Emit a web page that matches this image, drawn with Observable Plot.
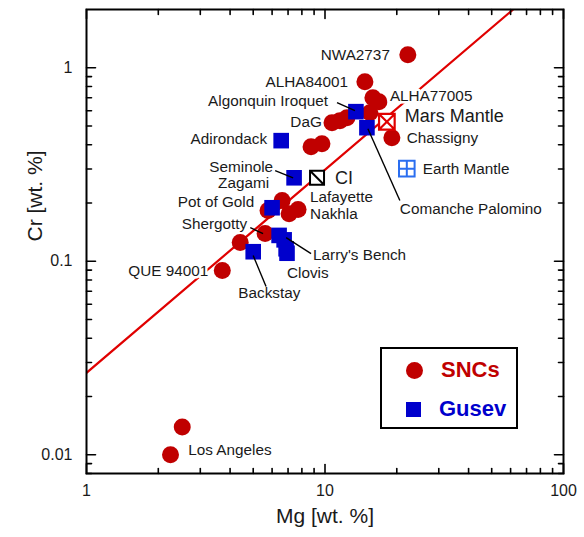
<!DOCTYPE html>
<html>
<head>
<meta charset="utf-8">
<script src="https://cdn.jsdelivr.net/npm/d3@7"></script>
<script src="https://cdn.jsdelivr.net/npm/@observablehq/plot@0.6"></script>
<style>
  body { margin: 0; background: #fff; }
  #wrap { position: relative; width: 584px; height: 537px; font-family: "Liberation Sans", Arial, sans-serif; }
  #legend { position: absolute; left: 380px; top: 347px; width: 134px; height: 78px; border: 2.5px solid #000; background: #fff; }
  .lg { position: absolute; left: 0; height: 30px; display: flex; align-items: center; font-weight: bold; font-size: 22px; }
  .sw { display: inline-block; margin-left: 24px; margin-right: 18px; }
</style>
</head>
<body>
<div id="wrap"></div>
<script>
// SNC meteorites (red circles)
const sncMg = [22.25, 14.70, 15.88, 16.83, 15.43, 10.70, 11.55, 12.36, 19.07, 8.74, 9.71, 6.61, 5.77, 7.07, 7.71, 5.61, 4.41, 3.71, 2.52, 2.25];
const sncCr = [1.167, 0.847, 0.700, 0.668, 0.586, 0.520, 0.533, 0.552, 0.435, 0.391, 0.405, 0.206, 0.183, 0.176, 0.185, 0.139, 0.125, 0.0895, 0.0139, 0.0100];

// Gusev rocks (blue squares)
const gusevMg = [13.48, 14.99, 6.55, 7.42, 6.00, 6.42, 6.74, 6.87, 6.93, 5.00];
const gusevCr = [0.593, 0.490, 0.420, 0.270, 0.189, 0.136, 0.129, 0.116, 0.110, 0.112];

// Reference compositions
const refNames = ["CI", "Mars Mantle", "Earth Mantle"];
const refMg = [9.26, 18.17, 22.03];
const refCr = [0.270, 0.526, 0.301];

// Trend line endpoints
const trendMg = [1, 61.2];
const trendCr = [0.0265, 1.99];

// Point labels
const labelText = ["NWA2737", "ALHA84001", "Algonquin Iroquet", "DaG", "ALHA77005", "Mars Mantle", "Chassigny", "Earth Mantle", "Comanche Palomino", "CI", "Lafayette", "Nakhla", "Adirondack", "Seminole", "Zagami", "Pot of Gold", "Shergotty", "Larry's Bench", "Clovis", "QUE 94001", "Backstay", "Los Angeles"];
const labelMg = [18.71, 12.48, 10.29, 8.33, 18.71, 21.61, 22.03, 25.70, 20.60, 11.01, 8.66, 8.66, 5.72, 6.06, 5.83, 5.05, 4.72, 8.91, 6.93, 3.24, 4.33, 2.672];
const labelCr = [1.167, 0.847, 0.676, 0.526, 0.717, 0.559, 0.435, 0.301, 0.187, 0.270, 0.2158, 0.1763, 0.430, 0.308, 0.252, 0.201, 0.1565, 0.107, 0.0864, 0.0885, 0.0681, 0.01054];
const labelAnchor = ["end", "end", "end", "middle", "start", "start", "start", "start", "start", "start", "start", "start", "end", "end", "end", "end", "end", "start", "start", "end", "start", "start"];
const bigLabels = ["Mars Mantle", "CI"];
const haloLabels = ["ALHA77005", "QUE 94001"];

// Leader lines
const leaderFromMg = [11.23, 15.13, 6.18, 4.86, 6.87, 5.00];
const leaderFromCr = [0.660, 0.484, 0.294, 0.149, 0.1325, 0.107];
const leaderToMg = [13.35, 20.60, 7.35, 5.50, 8.74, 5.66];
const leaderToCr = [0.600, 0.206, 0.270, 0.139, 0.1096, 0.0740];

// Axes
const xTickValues = [1, 10, 100];
const xTickLabels = ["1", "10", "100"];
const xMinor = [2, 3, 4, 5, 6, 7, 8, 9, 20, 30, 40, 50, 60, 70, 80, 90];
const yTickValues = [0.01, 0.1, 1];
const yTickLabels = ["0.01", "0.1", "1"];
const yMinor = [0.008, 0.009, 0.02, 0.03, 0.04, 0.05, 0.06, 0.07, 0.08, 0.09, 0.2, 0.3, 0.4, 0.5, 0.6, 0.7, 0.8, 0.9];
const xTitle = "Mg [wt. %]";
const yTitle = "Cr [wt. %]";

const snc = sncMg.map((m, i) => ({Mg: m, Cr: sncCr[i]}));
const gusev = gusevMg.map((m, i) => ({Mg: m, Cr: gusevCr[i]}));
const refs = refNames.map((n, i) => ({name: n, Mg: refMg[i], Cr: refCr[i]}));
const trend = trendMg.map((m, i) => ({Mg: m, Cr: trendCr[i]}));
const labels = labelText.map((t, i) => ({text: t, Mg: labelMg[i], Cr: labelCr[i], anchor: labelAnchor[i]}));
const leaders = leaderFromMg.map((m, i) => ({x1: m, y1: leaderFromCr[i], x2: leaderToMg[i], y2: leaderToCr[i]}));
const xTicks = xTickValues.map((v, i) => ({v, t: xTickLabels[i]}));
const yTicks = yTickValues.map((v, i) => ({v, t: yTickLabels[i]}));

const tickShape = {draw(ctx, l) { ctx.moveTo(0, 0); ctx.lineTo(0, -l); }};
const sqDiag = {draw(ctx, size) { const s = Math.sqrt(size) / 2; ctx.moveTo(-s, -s); ctx.lineTo(s, -s); ctx.lineTo(s, s); ctx.lineTo(-s, s); ctx.closePath(); ctx.moveTo(-s, -s); ctx.lineTo(s, s); }};
const sqX = {draw(ctx, size) { const s = Math.sqrt(size) / 2; ctx.moveTo(-s, -s); ctx.lineTo(s, -s); ctx.lineTo(s, s); ctx.lineTo(-s, s); ctx.closePath(); ctx.moveTo(-s, -s); ctx.lineTo(s, s); ctx.moveTo(s, -s); ctx.lineTo(-s, s); }};
const sqPlus = {draw(ctx, size) { const s = Math.sqrt(size) / 2; ctx.moveTo(-s, -s); ctx.lineTo(s, -s); ctx.lineTo(s, s); ctx.lineTo(-s, s); ctx.closePath(); ctx.moveTo(0, -s); ctx.lineTo(0, s); ctx.moveTo(-s, 0); ctx.lineTo(s, 0); }};

function ticks(data, len, side) {
  const common = {length: len, shape: tickShape, anchor: "start", stroke: "#000", strokeWidth: 1.6};
  if (side === "left") return Plot.vector(data, {...common, y: d => d, x: () => 1, rotate: 90});
  if (side === "right") return Plot.vector(data, {...common, y: d => d, x: () => 100, rotate: -90});
  if (side === "bottom") return Plot.vector(data, {...common, x: d => d, y: () => 0.008, rotate: 0});
  return Plot.vector(data, {...common, x: d => d, y: () => 2, rotate: 180});
}

function labelMarks() {
  const marks = [];
  for (const a of ["start", "end", "middle"]) {
    const normal = labels.filter(d => d.anchor === a && !bigLabels.includes(d.text) && !haloLabels.includes(d.text));
    const halo = labels.filter(d => d.anchor === a && haloLabels.includes(d.text));
    const big = labels.filter(d => d.anchor === a && bigLabels.includes(d.text));
    if (normal.length) marks.push(Plot.text(normal, {x: "Mg", y: "Cr", text: "text", textAnchor: a, fontSize: 15.3, fill: "#1a1a1a"}));
    if (halo.length) marks.push(Plot.text(halo, {x: "Mg", y: "Cr", text: "text", textAnchor: a, fontSize: 15.3, fill: "#1a1a1a", stroke: "#fff", strokeWidth: 5}));
    if (big.length) marks.push(Plot.text(big, {x: "Mg", y: "Cr", text: "text", textAnchor: a, fontSize: 18, fill: "#1a1a1a"}));
  }
  return marks;
}

const chart = Plot.plot({
  width: 584,
  height: 537,
  marginLeft: 86,
  marginRight: 21,
  marginTop: 9,
  marginBottom: 64,
  style: {fontFamily: '"Liberation Sans", Arial, sans-serif', background: "transparent"},
  x: {type: "log", domain: [1, 100], axis: null},
  y: {type: "log", domain: [0.008, 2], axis: null},
  marks: [
    Plot.line(trend, {x: "Mg", y: "Cr", stroke: "#e00000", strokeWidth: 2.2, clip: true}),
    Plot.dot(snc, {x: "Mg", y: "Cr", r: 8.5, fill: "#c00000"}),
    Plot.dot(gusev, {x: "Mg", y: "Cr", r: 8.8, symbol: "square", fill: "#0000cc"}),
    Plot.dot(refs.filter(d => d.name === "CI"), {x: "Mg", y: "Cr", r: 7.9, symbol: sqDiag, fill: "#fff", stroke: "#000", strokeWidth: 2}),
    Plot.dot(refs.filter(d => d.name === "Mars Mantle"), {x: "Mg", y: "Cr", r: 8.8, symbol: sqX, fill: "#fff", stroke: "#e00000", strokeWidth: 2.2}),
    Plot.dot(refs.filter(d => d.name === "Earth Mantle"), {x: "Mg", y: "Cr", r: 8.8, symbol: sqPlus, fill: "#fff", stroke: "#2a6ef0", strokeWidth: 2}),
    Plot.link(leaders, {x1: "x1", y1: "y1", x2: "x2", y2: "y2", stroke: "#000", strokeWidth: 1.4}),
    ...labelMarks(),
    Plot.frame({stroke: "#000", strokeWidth: 2}),
    ticks(xTickValues, 9, "bottom"), ticks(xTickValues, 9, "top"),
    ticks(xMinor, 5, "bottom"), ticks(xMinor, 5, "top"),
    ticks(yTickValues, 9, "left"), ticks(yTickValues, 9, "right"),
    ticks(yMinor, 5, "left"), ticks(yMinor, 5, "right"),
    Plot.text(xTicks, {x: "v", text: "t", frameAnchor: "bottom", dy: 22, fontSize: 16, fill: "#1a1a1a"}),
    Plot.text(yTicks, {y: "v", text: "t", frameAnchor: "left", dx: -14, textAnchor: "end", fontSize: 16, fill: "#1a1a1a"}),
    Plot.text([xTitle], {text: d => d, frameAnchor: "bottom", dy: 49, fontSize: 21, fill: "#1a1a1a"}),
    Plot.text([yTitle], {text: d => d, frameAnchor: "left", dx: -51, rotate: -90, fontSize: 21, fill: "#1a1a1a"})
  ]
});

const wrap = document.getElementById("wrap");
wrap.appendChild(chart);

// Legend
const legendItems = [
  {name: "SNCs", color: "#c00000", shape: "circle"},
  {name: "Gusev", color: "#0000cc", shape: "square"}
];
const legend = document.createElement("div");
legend.id = "legend";
legendItems.forEach((it, i) => {
  const row = document.createElement("div");
  row.className = "lg";
  row.style.top = (6 + i * 39) + "px";
  row.style.color = it.color;
  const sw = document.createElement("span");
  sw.className = "sw";
  sw.style.width = it.shape === "circle" ? "17px" : "15px";
  sw.style.height = it.shape === "circle" ? "17px" : "15px";
  sw.style.background = it.color;
  sw.style.borderRadius = it.shape === "circle" ? "50%" : "0";
  row.appendChild(sw);
  row.appendChild(document.createTextNode(it.name));
  legend.appendChild(row);
});
wrap.appendChild(legend);
</script>
</body>
</html>
